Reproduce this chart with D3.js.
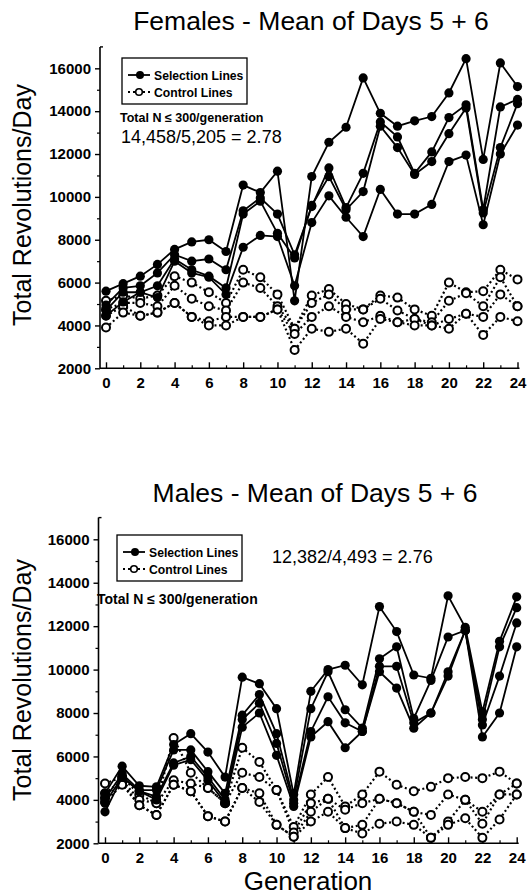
<!DOCTYPE html>
<html>
<head>
<meta charset="utf-8">
<script src="https://cdn.jsdelivr.net/npm/d3@7"></script>
<style>
  html, body { margin: 0; padding: 0; background: #fff; }
  svg { display: block; }
  text { font-family: "Liberation Sans", Arial, Helvetica, sans-serif; fill: #000; }
</style>
</head>
<body>
<svg id="chart" width="527" height="895"></svg>
<script>
// ---------- DATA ----------
const generations = [0,1,2,3,4,5,6,7,8,9,10,11,12,13,14,15,16,17,18,19,20,21,22,23,24];
const yTickValues = [2000,4000,6000,8000,10000,12000,14000,16000];
const xTickLabels = [0,2,4,6,8,10,12,14,16,18,20,22,24];

// Females – selection lines
const fSel1 = [5600,5950,6300,6850,7550,7900,8000,7450,10550,10200,11200,5150,10950,12550,13250,15550,13900,13300,13550,13750,14850,16450,11750,16250,15150];
const fSel2 = [4950,5750,5850,6450,7300,7000,7100,6600,9350,9950,9200,7300,9550,11350,9500,11100,13500,12800,11100,12100,13700,14300,9400,14200,14550];
const fSel3 = [4700,5550,5550,5850,7100,6600,6300,5750,9200,9800,8300,7150,9600,10950,9400,10250,13300,12300,11050,11650,12950,14150,9250,12300,14350];
const fSel4 = [4450,5100,5550,5300,7000,6450,6250,5450,7650,8200,8150,5850,8800,10050,9050,8150,10350,9200,9200,9650,11650,11950,8700,12000,13350];
// Females – control lines
const fCon1 = [5150,5400,5250,5400,6300,6000,5550,5050,6600,6250,5450,3850,5400,5700,5000,4750,5400,5300,4750,4450,6000,5550,5600,6600,6150];
const fCon2 = [4750,5050,5050,4900,5850,5250,4900,4700,6000,5750,4900,3850,5050,5450,4750,4750,5250,4700,4300,4150,5150,5500,4900,6250,4900];
const fCon3 = [4450,4900,4450,4600,5050,4400,4200,4400,4400,4400,4750,3600,4400,4900,4400,4150,4450,4150,4300,4000,4300,4550,4400,5450,4900];
const fCon4 = [3900,4600,4450,4600,5050,4400,4000,4000,4400,4400,4750,2850,3850,3700,3850,3150,4300,4150,4000,4000,3850,4550,3550,4400,4200];

// Males – selection lines
const mSel1 = [4300,5550,4650,4600,6550,7050,6200,5050,9650,9350,8200,4250,9000,10000,10200,9300,12900,11750,9750,9600,13400,11950,8050,11300,13350];
const mSel2 = [4050,5200,4450,4450,6300,6300,5300,4300,7900,8850,7050,4000,8200,9900,8150,7300,10500,11050,7750,9500,11500,11800,7700,11050,12850];
const mSel3 = [3850,5050,4400,4150,5700,6000,5050,4000,7700,8450,6600,3850,7150,8750,7550,7150,10150,10150,7550,8000,9900,11800,7450,9700,12150];
const mSel4 = [3450,5050,4400,4000,5600,5850,4900,3850,7350,8000,6050,3700,6900,7600,6400,7150,9900,9150,7300,8000,9700,11800,6900,8000,11050];
// Males – control lines
const mCon1 = [4750,5050,4250,3850,6850,5250,4550,3850,6400,5750,4450,2750,4250,5050,3700,4250,5300,4700,4400,4600,5000,5050,5000,5300,4750];
const mCon2 = [4300,4900,4000,3850,4900,4750,4550,3850,5250,5050,4450,2500,3850,4050,3550,3850,4050,3850,3450,3300,4250,4000,3450,4250,4750];
const mCon3 = [4100,4800,3750,3300,4700,4400,3250,3000,4550,4300,2850,2300,3450,4050,2700,2850,4050,3850,3450,2250,3000,4000,2900,4250,4250];
const mCon4 = [3900,4700,3750,3300,4700,4400,3250,3000,4550,3900,2850,2300,3000,3450,2700,2450,2900,3000,2850,2250,2850,3150,2250,3100,4250];

const minorY = [3000,5000,7000,9000,11000,13000,15000];

// ---------- DRAW ----------
const svg = d3.select("#chart");

function panel(opts) {
  const g = svg.append("g");
  const x = d3.scaleLinear().domain([0, 24]).range(opts.xr);
  const y = d3.scaleLinear().domain([2000, 17000]).range(opts.yr);
  const axisX = opts.axisX;
  const baseY = y(2000);

  // y axis line
  g.append("line").attr("x1", axisX).attr("x2", axisX)
    .attr("y1", y(17000)).attr("y2", baseY)
    .attr("stroke", "#000").attr("stroke-width", 1.6);
  // top hook
  g.append("line").attr("x1", axisX).attr("x2", axisX + 3)
    .attr("y1", y(17000)).attr("y2", y(17000))
    .attr("stroke", "#000").attr("stroke-width", 1.4);
  // x axis line
  g.append("line").attr("x1", axisX).attr("x2", x(24) + 2)
    .attr("y1", baseY).attr("y2", baseY)
    .attr("stroke", "#000").attr("stroke-width", 1.6);

  // y ticks
  const yAxis = d3.axisLeft(y).tickValues(yTickValues).tickSize(5).tickPadding(4)
    .tickFormat(d3.format("d"));
  const ya = g.append("g").attr("transform", `translate(${axisX},0)`).call(yAxis);
  ya.select(".domain").remove();
  ya.selectAll(".tick line").attr("stroke-width", 1.4);
  ya.selectAll(".tick text").attr("font-size", 15).attr("font-weight", "bold")
    .attr("font-family", "'Liberation Sans', Arial, sans-serif");
  const yMinor = d3.axisLeft(y).tickValues(minorY).tickSize(3).tickFormat("");
  const ym = g.append("g").attr("transform", `translate(${axisX},0)`).call(yMinor);
  ym.select(".domain").remove();
  ym.selectAll(".tick line").attr("stroke-width", 1.2);

  // x ticks (inward)
  const xAxis = d3.axisBottom(x).tickValues(xTickLabels).tickSize(-6).tickPadding(9)
    .tickFormat(d3.format("d"));
  const xa = g.append("g").attr("transform", `translate(0,${baseY})`).call(xAxis);
  xa.select(".domain").remove();
  xa.selectAll(".tick line").attr("stroke-width", 1.4);
  xa.selectAll(".tick text").attr("font-size", 15).attr("font-weight", "bold")
    .attr("font-family", "'Liberation Sans', Arial, sans-serif");
  const xMinor = d3.axisBottom(x).tickValues(generations.filter(d => d % 2 === 1))
    .tickSize(-3).tickFormat("");
  const xm = g.append("g").attr("transform", `translate(0,${baseY})`).call(xMinor);
  xm.select(".domain").remove();
  xm.selectAll(".tick line").attr("stroke-width", 1.2);

  const line = d3.line().x((d, i) => x(generations[i])).y(d => y(d));

  // controls
  opts.con.forEach(s => {
    g.append("path").datum(s).attr("d", line).attr("fill", "none")
      .attr("stroke", "#000").attr("stroke-width", 2.2)
      .attr("stroke-dasharray", "2,2.6");
  });
  opts.con.forEach(s => {
    g.selectAll(null).data(s).enter().append("circle")
      .attr("cx", (d, i) => x(generations[i])).attr("cy", d => y(d))
      .attr("r", 4).attr("fill", "#fff").attr("stroke", "#000").attr("stroke-width", 2);
  });
  // selection
  opts.sel.forEach(s => {
    g.append("path").datum(s).attr("d", line).attr("fill", "none")
      .attr("stroke", "#000").attr("stroke-width", 1.8);
  });
  opts.sel.forEach(s => {
    g.selectAll(null).data(s).enter().append("circle")
      .attr("cx", (d, i) => x(generations[i])).attr("cy", d => y(d))
      .attr("r", 4.6).attr("fill", "#000");
  });

  // title
  g.append("text").attr("x", opts.titleX).attr("y", opts.titleY)
    .attr("text-anchor", "middle").attr("font-size", 26.5)
    .text(opts.title);

  // y label
  g.append("text")
    .attr("transform", `translate(${opts.ylabX},${opts.ylabY}) rotate(-90)`)
    .attr("text-anchor", "middle").attr("font-size", 25)
    .text("Total Revolutions/Day");

  // legend
  const lg = g.append("g").attr("transform", `translate(${opts.legX},${opts.legY})`);
  lg.append("rect").attr("x", 0).attr("y", 0).attr("width", 125).attr("height", 46)
    .attr("fill", "#fff").attr("stroke", "#000").attr("stroke-width", 1.3);
  lg.append("line").attr("x1", 6).attr("x2", 28).attr("y1", 17).attr("y2", 17)
    .attr("stroke", "#000").attr("stroke-width", 1.8);
  lg.append("circle").attr("cx", 18).attr("cy", 17).attr("r", 4).attr("fill", "#000");
  lg.append("text").attr("x", 32).attr("y", 21.5).attr("font-size", 12.2).attr("font-weight", "bold")
    .text("Selection Lines");
  lg.append("line").attr("x1", 6).attr("x2", 28).attr("y1", 34).attr("y2", 34)
    .attr("stroke", "#000").attr("stroke-width", 2).attr("stroke-dasharray", "2,3");
  lg.append("circle").attr("cx", 17).attr("cy", 34).attr("r", 3.3)
    .attr("fill", "#fff").attr("stroke", "#000").attr("stroke-width", 1.6);
  lg.append("text").attr("x", 32).attr("y", 38.5).attr("font-size", 12.2).attr("font-weight", "bold")
    .text("Control Lines");

  g.append("text").attr("x", opts.nX).attr("y", opts.nY)
    .attr("font-size", opts.nSize).attr("font-weight", "bold")
    .text("Total N \u2264 300/generation");
  g.append("text").attr("x", opts.ratioX).attr("y", opts.ratioY)
    .attr("font-size", 18)
    .text(opts.ratio);

  return { x, y };
}

panel({
  xr: [106, 517.5], yr: [368.3, 46.9], axisX: 100,
  sel: [fSel1, fSel2, fSel3, fSel4], con: [fCon1, fCon2, fCon3, fCon4],
  title: "Females - Mean of Days 5 + 6", titleX: 311, titleY: 30,
  ylabX: 31, ylabY: 205,
  legX: 122, legY: 58,
  nX: 120, nY: 122, nSize: 12.5,
  ratio: "14,458/5,205 = 2.78", ratioX: 121, ratioY: 142.5
});

panel({
  xr: [105, 516.7], yr: [843.3, 517.6], axisX: 98.5,
  sel: [mSel1, mSel2, mSel3, mSel4], con: [mCon1, mCon2, mCon3, mCon4],
  title: "Males - Mean of Days 5 + 6", titleX: 315, titleY: 502,
  ylabX: 31, ylabY: 680,
  legX: 117, legY: 535,
  nX: 97, nY: 604, nSize: 14,
  ratio: "12,382/4,493 = 2.76", ratioX: 272, ratioY: 563
});

svg.append("text").attr("x", 308).attr("y", 890)
  .attr("text-anchor", "middle").attr("font-size", 26)
  .text("Generation");
</script>
</body>
</html>
